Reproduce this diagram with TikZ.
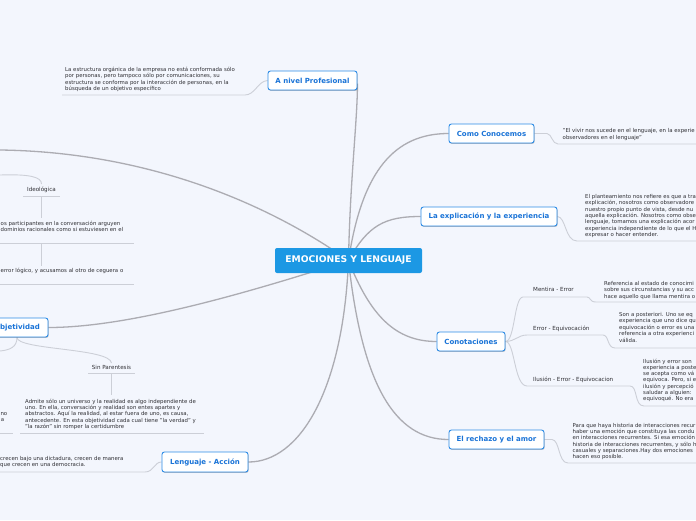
\documentclass[tikz,border=0pt]{standalone}
\usepackage{fontspec}
\setmainfont{DejaVu Sans}
\usetikzlibrary{shadows}
\pgfdeclarelayer{bg}
\pgfsetlayers{bg,main}
\definecolor{bgc}{RGB}{243,246,253}
\definecolor{cblue}{RGB}{28,152,228}
\definecolor{bborder}{RGB}{45,140,230}
\definecolor{btext}{RGB}{25,115,215}
\definecolor{mline}{RGB}{172,172,178}
\definecolor{sline}{RGB}{204,207,215}
\definecolor{txt}{RGB}{48,48,53}
\tikzset{
 mainbox/.style={draw=bborder, fill=white, line width=0.9pt, rounded corners=2.5pt, text=btext,
   font=\fontsize{7}{8}\selectfont\bfseries, minimum height=19pt, inner sep=0pt,
   drop shadow={shadow xshift=0.6pt, shadow yshift=-0.9pt, opacity=0.25, fill=black}},
 centerbox/.style={fill=cblue, rounded corners=2pt, text=white, font=\fontsize{9.2}{10}\selectfont\bfseries,
   minimum width=147pt, minimum height=25pt, inner sep=0pt},
 mainline/.style={draw=mline, line width=1.3pt},
 subline/.style={draw=sline, line width=0.9pt},
 blk/.style={font=\fontsize{5.4}{6}\selectfont, text=txt, inner sep=0pt, anchor=base west},
 lbl/.style={font=\fontsize{5.6}{6}\selectfont, text=txt, inner sep=0pt, anchor=base},
}
\newcommand\tblock[5]{%
  \foreach \tline [count=\i] in {#5} {\node[blk] (#1\i) at (#2,{#3+(\i-1)*#4}) {\tline};}}
\begin{document}
\begin{tikzpicture}[x=1pt,y=-1pt]
\useasboundingbox (0,0) rectangle (696,520);
\clip (0,0) rectangle (696,520);

% central and main nodes
\node[centerbox] (ctr) at (348.5,260.5) {EMOCIONES Y LENGUAJE};
\node[mainbox, minimum width=89pt] (prof) at (312.5,80.5) {A nivel Profesional};
\node[mainbox, minimum width=85pt] (conoc) at (491.5,133.5) {Como Conocemos};
\node[mainbox, minimum width=136pt] (expl) at (489,216.5) {La explicación y la experiencia};
\node[mainbox, minimum width=68pt] (conot) at (471,341.5) {Conotaciones};
\node[mainbox, minimum width=95pt] (rech) at (496.5,439.5) {El rechazo y el amor};
\node[mainbox, minimum width=86pt, minimum height=20pt] (leng) at (205,462) {Lenguaje - Acción};
\node[mainbox, minimum width=62pt] (objet) at (17,327.5) {Objetividad};

% sub labels
\node[lbl] (ideo) at (41.5,191) {Ideológica};
\node[lbl] (sinp) at (111.5,369) {Sin Parentesis};
\node[lbl, anchor=base west] (ment) at (533,291.5) {Mentira - Error};
\node[lbl, anchor=base west] (erreq) at (533,330.5) {Error - Equivocación};
\node[lbl, anchor=base west] (ilus) at (533,381.5) {Ilusión - Error - Equivocacion};

% text blocks
\tblock{pf}{65}{71.3}{6.5}{{La estructura orgánica de la empresa no está conformada sólo},{por personas, pero tampoco sólo por comunicaciones, su},{estructura se conforma por la interacción de personas, en la},{búsqueda de un objetivo específico}}
\tblock{cc}{562.5}{132}{7.2}{{"El vivir nos sucede en el lenguaje, en la experie},{observadores en el lenguaje"}}
\tblock{ex}{585}{198.3}{6.4}{{El planteamiento nos refiere es que a tra},{explicación, nosotros como observadore},{nuestro propio punto de vista, desde nu},{aquella explicación. Nosotros como obse},{lenguaje, tomamos una explicación acor},{experiencia independiente de lo que el H},{expresar o hacer entender.}}
\tblock{me}{604}{285.3}{6.5}{{Referencia al estado de conocimi},{sobre sus circunstancias y su acc},{hace aquello que llama mentira o}}
\tblock{eq}{619}{316.3}{6.5}{{Son a posteriori. Uno se eq},{experiencia que uno dice qu},{equivocación o error es una},{referencia a otra experienci},{válida.}}
\tblock{il}{643}{363.3}{6.2}{{Ilusión y error son},{experiencia a posteri},{se acepta como vá},{equivoca. Pero, si e},{ilusión y percepció},{saludar a alguien:},{equivoqué. No era}}
\tblock{re}{572.5}{427.3}{6.3}{{Para que haya historia de interacciones recur},{haber una emoción que constituya las condu},{en interacciones recurrentes. Si esa emoción},{historia de interacciones recurrentes, y sólo h},{casuales y separaciones.Hay dos emociones},{hacen eso posible.}}
\tblock{le}{0}{460.3}{6}{{crecen bajo una dictadura, crecen de manera},{que crecen en una democracia.}}
\tblock{ia}{0.5}{225.3}{6}{{os participantes en la conversación arguyen},{dominios racionales como si estuviesen en el}}
\tblock{ib}{0.5}{272.3}{6}{{error lógico, y acusamos al otro de ceguera o}}
\tblock{sp}{25}{403.3}{6.3}{{Admite sólo un universo y la realidad es algo independiente de},{uno. En ella, conversación y realidad son entes apartes y},{abstractos. Aquí la realidad, al estar fuera de uno, es causa,},{antecedente. En esta objetividad cada cual tiene "la verdad" y},{"la razón" sin romper la certidumbre}}
\node[blk, anchor=base east] (fr1) at (7.5,415.3) {no};
\node[blk, anchor=base east] (fr2) at (4.5,421.5) {a};

% free ends
\coordinate (tl) at (0,150);
\coordinate (ideoin) at (0,175);
\coordinate (objl) at (0,351);

\begin{pgfonlayer}{bg}
\clip (0,0) rectangle (696,520);
\fill[bgc] (0,0) rectangle (696,520);
% main connectors
\draw[mainline] (tl) .. controls (150,152) and (270,205) .. (ctr.center);
\draw[mainline] (ctr.center) .. controls (350,180) and (357.5,120) .. ([yshift=-3pt]prof.east);
\draw[mainline] (ctr.center) .. controls (362,170) and (395,133.5) .. (conoc.west);
\draw[mainline] (ctr.center) .. controls (368,225) and (385,216.5) .. (expl.west);
\draw[mainline] (ctr.center) .. controls (370,315) and (395,341.5) .. (conot.west);
\draw[mainline] (ctr.center) .. controls (362,385) and (395,439.5) .. (rech.west);
\draw[mainline] (ctr.center) .. controls (343,390) and (300,462) .. (leng.east);
\draw[mainline] (ctr.center) .. controls (250,292) and (130,327.5) .. (objet.east);
% sub connectors and underlines
\draw[subline] (prof.west) .. controls (258,81) and (255,95) .. (245,95) -- (62,95);
\draw[subline] (conoc.east) -- (547,133.5) .. controls (552,134) and (552,144) .. (558,144) -- (696,144);
\draw[subline] (expl.east) .. controls (566,217) and (565,241) .. (577,241) -- (696,241);
\draw[subline] (conot.east) .. controls (515,341.5) and (514,297) .. (523,297) -- (587,297) .. controls (591,297) and (589,302) .. (596,302) -- (696,302);
\draw[subline] (conot.east) .. controls (515,341.5) and (518,335) .. (527,335) -- (603,335) .. controls (609,335) and (607,348) .. (615,348) -- (696,348);
\draw[subline] (conot.east) .. controls (515,341.5) and (514,386) .. (527,386) -- (630,386) .. controls (638,386) and (634,406) .. (644,406) -- (696,406);
\draw[subline] (rech.east) -- (552,439.5) .. controls (560,440) and (558,463) .. (568,463) -- (696,463);
\draw[subline] (leng.west) .. controls (154,462) and (154,472) .. (145,472) -- (0,472);
\draw[subline] (objet.south) .. controls (17,350) and (110,348) .. (111.5,363);
\draw[subline] (objet.south) .. controls (17,347) and (10,350) .. (objl);
\draw[subline] (88,373) -- (135,373);
\draw[subline] (111.5,373) -- (111.5,395);
\draw[subline] (20,433) -- (204,433);
\draw[subline] (0,433) -- (13,433);
\draw[subline] (ideoin) .. controls (30,174) and (41.5,177) .. (41.5,184);
\draw[subline] (23,196) -- (60,196);
\draw[subline] (41.5,196) -- (41.5,218);
\draw[subline] (0,243) -- (134,243);
\draw[subline] (41.5,243) -- (41.5,266);
\draw[subline] (0,284) -- (134,284);
\end{pgfonlayer}
\end{tikzpicture}
\end{document}
